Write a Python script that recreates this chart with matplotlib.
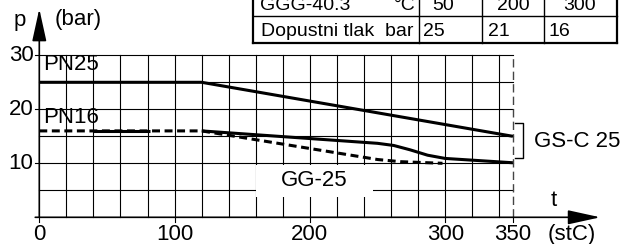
import matplotlib.pyplot as plt
from matplotlib.patches import Rectangle

plt.rcParams['font.family'] = ['Liberation Sans', 'DejaVu Sans']

# podaci (t u stC, p u bar)
t_pn25 = [0, 120, 350]
p_pn25 = [25, 25, 15]

t_pn16 = [120, 250, 262, 274, 287, 300, 350]
p_pn16 = [16, 13.7, 13.3, 12.5, 11.5, 10.9, 10.1]
t_pn16_flat = [40, 82]
p_pn16_flat = [16, 16]

t_gg25 = [0, 120, 250, 267, 298]
p_gg25 = [16, 16, 10.7, 10.3, 10.0]

x_ticks = [0, 100, 200, 300, 350]
y_ticks = [10, 20, 30]

# tablica
tab_head = ['GGG-40.3', '°C', '50', '200', '300']
tab_row = ['Dopustni tlak  bar', '25', '21', '16']

fig = plt.figure(figsize=(6.23, 2.44), dpi=100)
ax = fig.add_axes([0, 0, 1, 1])
px0, py0, sx, sy = 39.3, 217.3, 1.353, 5.4
ax.set_xlim(-px0 / sx, (623 - px0) / sx)
ax.set_ylim((py0 - 244) / sy, py0 / sy)
ax.axis('off')

# mreza
for t in range(20, 341, 20):
    ax.plot([t, t], [0, 30], color='k', lw=0.8, zorder=1)
for p in range(5, 31, 5):
    ax.plot([0, 350], [p, p], color='k', lw=0.8, zorder=1)
ax.plot([350, 350], [0, 30], color='#444444', lw=1.0, dashes=(6, 3), zorder=1)
for p in y_ticks:
    ax.plot([-3.5, 0], [p, p], color='k', lw=0.8)
for t in x_ticks:
    ax.plot([t, t], [-0.8, 0], color='k', lw=0.8)

# osi sa strelicama
ax.annotate('', xy=(414.6, 0), xytext=(-3, 0),
            arrowprops=dict(arrowstyle='-|>,head_length=1.0,head_width=0.22',
                            color='k', lw=1.2, mutation_scale=20, shrinkA=0, shrinkB=0))
ax.annotate('', xy=(0, 38.6), xytext=(0, 0),
            arrowprops=dict(arrowstyle='-|>,head_length=1.0,head_width=0.22',
                            color='k', lw=1.2, mutation_scale=20, shrinkA=0, shrinkB=0))

# bijelo polje za GG-25
ax.add_patch(Rectangle((160, 3.8), 86.7, 5.9, fc='white', ec='none', zorder=2))

# krivulje
ax.plot(t_pn25, p_pn25, color='k', lw=2.2, zorder=3, solid_capstyle='butt')
ax.plot(t_pn16, p_pn16, color='k', lw=2.2, zorder=3, solid_capstyle='butt')
ax.plot(t_pn16_flat, p_pn16_flat, color='k', lw=2.2, zorder=3, solid_capstyle='butt')
ax.plot(t_gg25, p_gg25, color='k', lw=2.2, dashes=(2.6, 1.5), zorder=3)

# oznake
fs = 16
for t in x_ticks:
    ax.text(t, -3.1, str(t), ha='center', va='center', fontsize=fs)
for p in y_ticks:
    ax.text(-4.3, p, str(p), ha='right', va='center', fontsize=fs)
ax.text(2.7, 26.3, 'PN25', ha='left', va='bottom', fontsize=fs, zorder=4)
ax.text(2.7, 16.6, 'PN16', ha='left', va='bottom', fontsize=fs, zorder=4)
ax.text(203, 6.8, 'GG-25', ha='center', va='center', fontsize=fs, zorder=4)
ax.text(366, 14.0, 'GS-C 25', ha='left', va='center', fontsize=fs)
ax.plot([351.5, 357.5, 357.5, 351.5], [17.4, 17.4, 10.9, 10.9], color='k', lw=1.0)
ax.text(380, 3.2, 't', ha='center', va='center', fontsize=fs)
ax.text(376, -3.1, '(stC)', ha='left', va='center', fontsize=fs)
ax.text(-14.5, 36.4, 'p', ha='center', va='center', fontsize=fs)
ax.text(11, 36.6, '(bar)', ha='left', va='center', fontsize=fs)

# tablica gore desno (pikseli)
tx = fig.add_axes([0, 0, 1, 1])
tx.set_xlim(0, 623)
tx.set_ylim(244, 0)
tx.axis('off')
cols = [253, 419, 482, 544, 617]
for i, c in enumerate(cols):
    tx.plot([c, c], [-20, 43], color='k', lw=1.6 if i in (0, 4) else 1.0)
tx.plot([253, 617], [16, 16], color='k', lw=1.0)
tx.plot([253, 617], [43, 43], color='k', lw=1.6)
tfs = 14
tx.text(260, 10, tab_head[0], ha='left', va='baseline', fontsize=tfs)
tx.text(416, 10, tab_head[1], ha='right', va='baseline', fontsize=tfs)
for x, s in zip([432, 497, 563], tab_head[2:]):
    tx.text(x, 10, s, ha='left', va='baseline', fontsize=tfs)
tx.text(261, 36, tab_row[0], ha='left', va='baseline', fontsize=tfs)
for x, s in zip([423, 488, 548], tab_row[1:]):
    tx.text(x, 36, s, ha='left', va='baseline', fontsize=tfs)

fig.savefig('out.png', dpi=100)
